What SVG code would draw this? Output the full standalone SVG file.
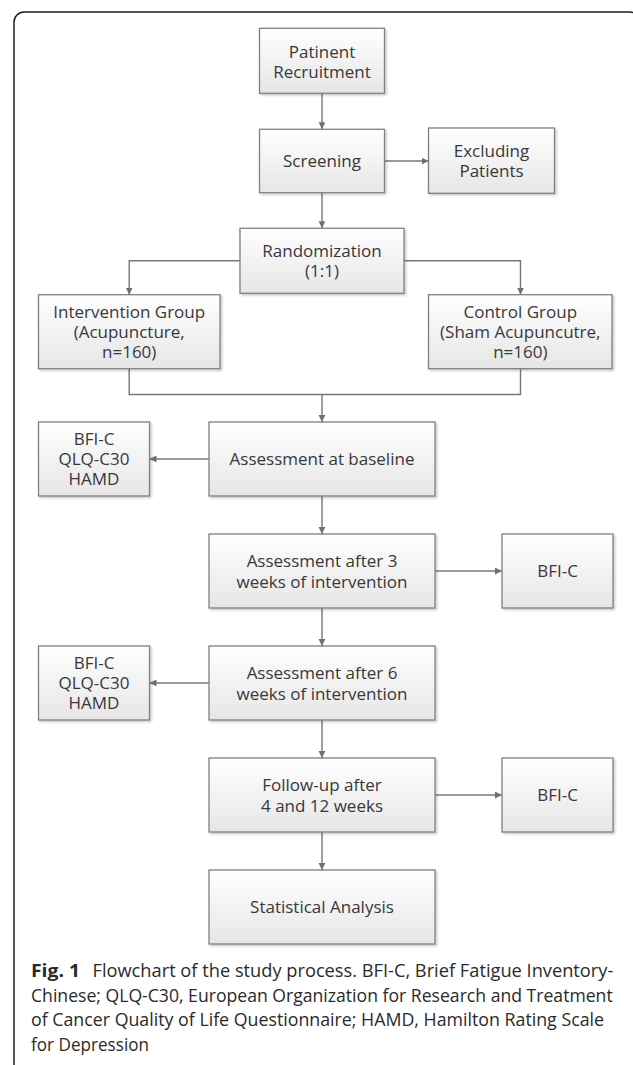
<svg xmlns="http://www.w3.org/2000/svg" width="633" height="1065" viewBox="0 0 633 1065">
<defs>
<linearGradient id="boxfill" x1="0" y1="0" x2="0" y2="1">
<stop offset="0" stop-color="#ffffff"/>
<stop offset="1" stop-color="#e6e6e6"/>
</linearGradient>
<filter id="shadow" x="-10%" y="-10%" width="130%" height="130%">
<feDropShadow dx="1.5" dy="1.5" stdDeviation="1" flood-color="#000" flood-opacity="0.22"/>
</filter>
<marker id="arrow" markerUnits="userSpaceOnUse" markerWidth="8" markerHeight="8" refX="7" refY="3.4" orient="auto">
<path d="M0,0 L7,3.4 L0,6.8 z" fill="#707070"/>
</marker>
</defs>
<style>
.box{fill:url(#boxfill);stroke:#808080;stroke-width:1.3;filter:url(#shadow);}
.lbl{font-family:"Open Sans","Noto Sans","DejaVu Sans",sans-serif;font-size:17px;fill:#383838;text-anchor:middle;}
.conn{fill:none;stroke:#777;stroke-width:1.4;}
.arr{marker-end:url(#arrow);}
.cap{font-family:"Open Sans","Noto Sans","DejaVu Sans",sans-serif;font-size:18px;fill:#2a2a2a;}
</style>
<rect width="633" height="1065" fill="#ffffff"/>
<path d="M14,1065 V22 A10,10 0 0 1 24,12 H630 A10,10 0 0 1 640,22 V1065" fill="none" stroke="#1e1e1e" stroke-width="1.5"/>

<g id="connectors">
<path class="conn arr" d="M322,93.3 V129.3"/>
<path class="conn arr" d="M384.5,161 H428.5"/>
<path class="conn arr" d="M322,192.7 V228.3"/>
<path class="conn arr" d="M240,260.8 H129.2 V294.7"/>
<path class="conn arr" d="M404,260.8 H520.5 V294.7"/>
<path class="conn" d="M129.2,368.7 V394.5 H520.5 V368.7"/>
<path class="conn arr" d="M322,394.5 V422"/>
<path class="conn arr" d="M209,459 H149.5"/>
<path class="conn arr" d="M322,496 V534"/>
<path class="conn arr" d="M435,571 H502"/>
<path class="conn arr" d="M322,608 V646"/>
<path class="conn arr" d="M209,683 H149.5"/>
<path class="conn arr" d="M322,720 V758"/>
<path class="conn arr" d="M435,795 H502"/>
<path class="conn arr" d="M322,832 V870"/>
</g>

<g id="patient-recruitment">
<rect class="box" x="259.5" y="28.3" width="125" height="65"/>
<text class="lbl" x="322" y="57.5">Patinent<tspan x="322" dy="20.3">Recruitment</tspan></text>
</g>
<g id="screening">
<rect class="box" x="259.5" y="129.3" width="125" height="63.4"/>
<text class="lbl" x="322" y="167.3">Screening</text>
</g>
<g id="excluding-patients">
<rect class="box" x="428.5" y="128" width="126" height="65.3"/>
<text class="lbl" x="491.5" y="156.8">Excluding<tspan x="491.5" dy="20.5">Patients</tspan></text>
</g>
<g id="randomization">
<rect class="box" x="240" y="228.3" width="164" height="65"/>
<text class="lbl" x="322" y="256.8">Randomization<tspan x="322" dy="20.2">(1:1)</tspan></text>
</g>
<g id="intervention-group">
<rect class="box" x="38.5" y="294.7" width="181.5" height="74"/>
<text class="lbl" x="129.2" y="317.7">Intervention Group<tspan x="129.2" dy="20.3">(Acupuncture,</tspan><tspan x="129.2" dy="20.2">n=160)</tspan></text>
</g>
<g id="control-group">
<rect class="box" x="428.5" y="294.7" width="183.5" height="74"/>
<text class="lbl" x="520.3" y="317.7">Control Group<tspan x="520.3" dy="20.3">(Sham Acupuncutre,</tspan><tspan x="520.3" dy="20.2">n=160)</tspan></text>
</g>
<g id="assessment-baseline">
<rect class="box" x="209" y="422" width="226" height="74"/>
<text class="lbl" x="322" y="465">Assessment at baseline</text>
</g>
<g id="measures-baseline">
<rect class="box" x="38.5" y="422" width="111" height="74"/>
<text class="lbl" x="94" y="445">BFI-C<tspan x="94" dy="20">QLQ-C30</tspan><tspan x="94" dy="20">HAMD</tspan></text>
</g>
<g id="assessment-3-weeks">
<rect class="box" x="209" y="534" width="226" height="74"/>
<text class="lbl" x="322" y="567">Assessment after 3<tspan x="322" dy="20.5">weeks of intervention</tspan></text>
</g>
<g id="measures-3-weeks">
<rect class="box" x="502" y="534" width="111" height="74"/>
<text class="lbl" x="557.5" y="577">BFI-C</text>
</g>
<g id="assessment-6-weeks">
<rect class="box" x="209" y="646" width="226" height="74"/>
<text class="lbl" x="322" y="679">Assessment after 6<tspan x="322" dy="20.5">weeks of intervention</tspan></text>
</g>
<g id="measures-6-weeks">
<rect class="box" x="38.5" y="646" width="111" height="74"/>
<text class="lbl" x="94" y="669">BFI-C<tspan x="94" dy="20">QLQ-C30</tspan><tspan x="94" dy="20">HAMD</tspan></text>
</g>
<g id="follow-up">
<rect class="box" x="209" y="758" width="226" height="74"/>
<text class="lbl" x="322" y="791">Follow-up after<tspan x="322" dy="20.5">4 and 12 weeks</tspan></text>
</g>
<g id="measures-follow-up">
<rect class="box" x="502" y="758" width="111" height="74"/>
<text class="lbl" x="557.5" y="801">BFI-C</text>
</g>
<g id="statistical-analysis">
<rect class="box" x="209" y="870" width="226" height="74"/>
<text class="lbl" x="322" y="913">Statistical Analysis</text>
</g>

<g id="caption">
<text class="cap" x="31" y="977" textLength="49" lengthAdjust="spacingAndGlyphs" font-weight="bold" fill="#1a1a1a">Fig. 1</text>
<text class="cap" x="92.5" y="977" textLength="520.8" lengthAdjust="spacingAndGlyphs">Flowchart of the study process. BFI-C, Brief Fatigue Inventory-</text>
<text class="cap" x="31" y="1001.5" textLength="581.7" lengthAdjust="spacingAndGlyphs">Chinese; QLQ-C30, European Organization for Research and Treatment</text>
<text class="cap" x="31" y="1026" textLength="573" lengthAdjust="spacingAndGlyphs">of Cancer Quality of Life Questionnaire; HAMD, Hamilton Rating Scale</text>
<text class="cap" x="31" y="1050.5" textLength="118" lengthAdjust="spacingAndGlyphs">for Depression</text>
</g>
</svg>
